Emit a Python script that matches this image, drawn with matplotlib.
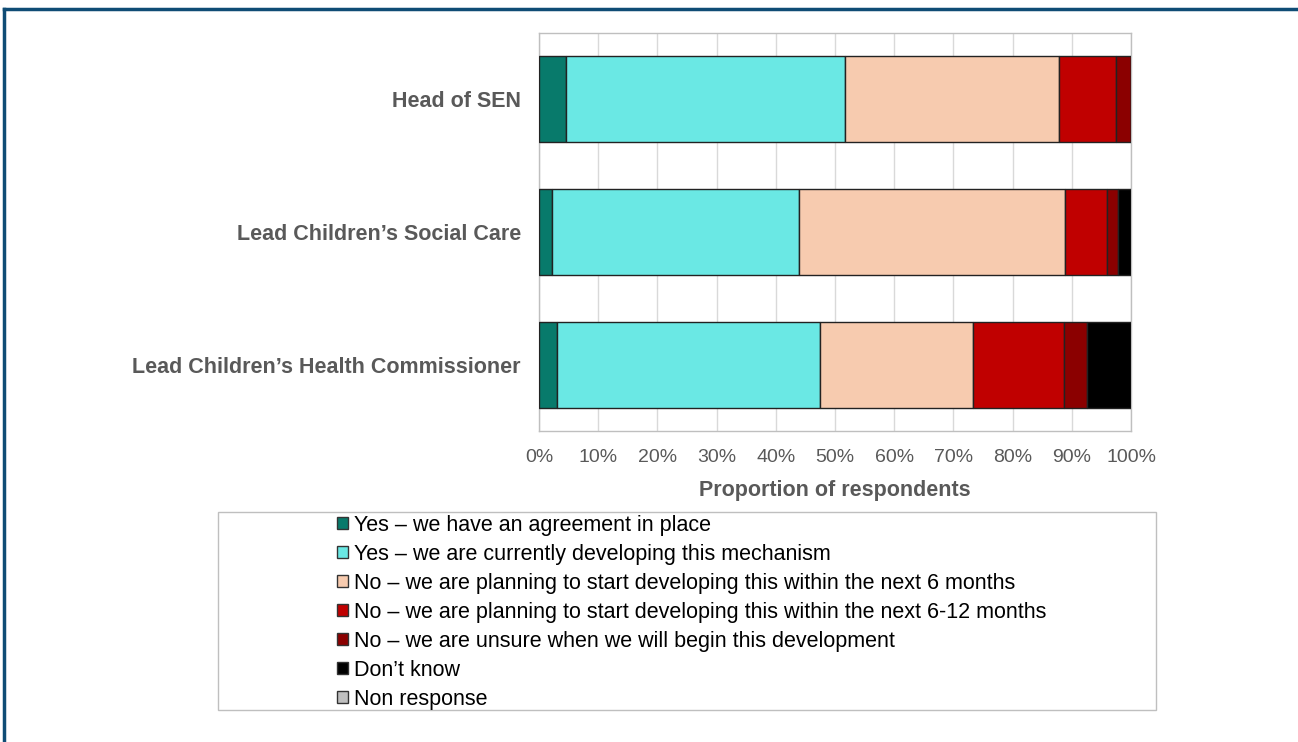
import matplotlib.pyplot as plt
from matplotlib.patches import Patch, Rectangle
import numpy as np

plt.rcParams['font.family'] = ['Liberation Sans', 'DejaVu Sans']

# -----------------------
# DATA (percent of respondents)
# -----------------------
roles = ['Head of SEN', 'Lead Children\u2019s Social Care', 'Lead Children\u2019s Health Commissioner']
responses = ['Yes \u2013 we have an agreement in place',
             'Yes \u2013 we are currently developing this mechanism',
             'No \u2013 we are planning to start developing this within the next 6 months',
             'No \u2013 we are planning to start developing this within the next 6-12 months',
             'No \u2013 we are unsure when we will begin this development',
             'Don\u2019t know',
             'Non response']
agreement = [4.5, 2.2, 3.0]
developing = [47.2, 41.7, 44.5]
within_6 = [36.2, 45.0, 25.8]
within_6_12 = [9.6, 7.1, 15.3]
unsure = [2.5, 1.8, 4.0]
dont_know = [0.0, 2.2, 7.4]
non_response = [0.0, 0.0, 0.0]

series = [agreement, developing, within_6, within_6_12, unsure, dont_know, non_response]
colors = ['#087A6B', '#6AE8E4', '#F7CBAF', '#C00000', '#8B0000', '#000000', '#BFBFBF']

grey_txt = '#595959'

# -----------------------
# FIGURE
# -----------------------
fig = plt.figure(figsize=(12.98, 7.42), dpi=100)
ax = fig.add_axes([539 / 1298, 1 - 431 / 742, 592 / 1298, 398 / 742])

y = np.arange(len(roles))
left = np.zeros(len(roles))
for vals, col in zip(series, colors):
    vals = np.array(vals) / 100
    ax.barh(y, vals, left=left, height=0.65, color=col, edgecolor='#222222', linewidth=1, zorder=3)
    left += vals

ax.set_ylim(len(roles) - 0.5, -0.5)
ax.set_xlim(0, 1)
ax.set_xticks(np.linspace(0, 1, 11))
ax.set_xticklabels([f'{int(round(t * 100))}%' for t in np.linspace(0, 1, 11)])
ax.set_yticks(y)
ax.set_yticklabels(roles, fontweight='bold', fontsize=15.5)
ax.tick_params(axis='both', length=0, colors=grey_txt)
ax.tick_params(axis='x', pad=13, labelsize=14)
ax.tick_params(axis='y', pad=13)
ax.grid(axis='x', color='#D9D9D9', linewidth=1, zorder=0)
for s in ax.spines.values():
    s.set_color('#BFBFBF')
    s.set_linewidth(1)
ax.set_xlabel('Proportion of respondents', fontsize=15.5, fontweight='bold', color=grey_txt, labelpad=10)

# -----------------------
# LEGEND (boxed, below chart)
# -----------------------
fig.patches.append(Rectangle((218 / 1298, 1 - 710 / 742), 938 / 1298, 198 / 742,
                             transform=fig.transFigure, facecolor='white',
                             edgecolor='#BFBFBF', linewidth=1, zorder=0))
handles = [Patch(facecolor=c, edgecolor='#333333', linewidth=1) for c in colors]
fig.legend(handles, responses, loc='upper left', bbox_to_anchor=(337 / 1298, 1 - 515 / 742),
           frameon=False, fontsize=15.5, handlelength=0.5, handleheight=0.5,
           handletextpad=0.3, labelspacing=0.37, borderpad=0, borderaxespad=0)

# outer frame lines (top and left)
fig.add_artist(plt.Line2D([4 / 1298, 1], [1 - 9 / 742, 1 - 9 / 742], transform=fig.transFigure,
                          color='#0F4C75', linewidth=2.5))
fig.add_artist(plt.Line2D([4 / 1298, 4 / 1298], [0, 1 - 9 / 742], transform=fig.transFigure,
                          color='#0F4C75', linewidth=2.5))

fig.savefig('out.png', dpi=100)
